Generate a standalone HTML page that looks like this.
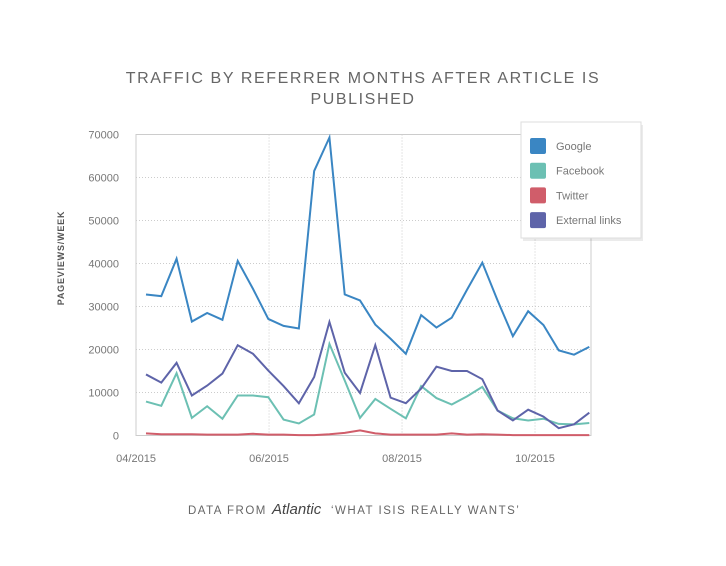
<!DOCTYPE html>
<html><head><meta charset="utf-8"><style>
body{margin:0;background:#fff;font-family:"Liberation Sans",sans-serif}
svg text{font-family:"Liberation Sans",sans-serif}
</style></head><body>
<svg width="726" height="561" viewBox="0 0 726 561">
<g id="chart-root"></g>
</svg>
<script>
const weeks=["04/2015","06/2015","08/2015","10/2015"];
const google=[32800,32400,41100,26500,28500,26900,40600,34100,27100,25500,24900,61500,69300,32800,31400,25800,22500,19000,28000,25100,27400,33900,40200,31400,23100,28900,25700,19800,18800,20600];
const facebook=[7900,6900,14500,4100,6800,3900,9300,9300,8900,3700,2800,4900,21300,12800,4100,8500,6200,4000,11500,8700,7200,9100,11300,5800,4000,3500,3900,2700,2600,2900];
const twitter=[500,300,300,300,200,200,200,400,200,200,100,100,300,600,1200,500,200,200,200,200,500,200,300,200,100,100,100,100,100,100];
const external=[14200,12300,16900,9300,11600,14400,21000,19000,15100,11500,7500,13600,26400,14600,9900,21000,8800,7500,10900,16000,15000,15000,13100,5800,3500,6000,4400,1700,2600,5300];
const yTicks=[0,10000,20000,30000,40000,50000,60000,70000];
const xTickLabels=["04/2015","06/2015","08/2015","10/2015"];
const xTickIdx=[-0.65,8.05,16.75,25.45];
const seriesNames=["Google","Facebook","Twitter","External links"];
const colors=["#3a86c3","#6cc0b3","#d05d6a","#5e64a9"];

const NS="http://www.w3.org/2000/svg";
const root=document.getElementById('chart-root');
const L=136,R=591,T=134.5,B=435.5;
const y=v=>B-(v/70000)*(B-T);
const x=i=>146+i*(589.3-146)/29;
function mk(tag,attrs,parent){const e=document.createElementNS(NS,tag);for(const k in attrs)e.setAttribute(k,attrs[k]);(parent||root).appendChild(e);return e;}

let t=mk('text',{x:363,y:83,'text-anchor':'middle','font-size':16,fill:'#666','letter-spacing':'1.6'});


t.textContent="TRAFFIC BY REFERRER MONTHS AFTER ARTICLE IS";
t=mk('text',{x:363,y:104,'text-anchor':'middle','font-size':16,fill:'#666','letter-spacing':'1.6'});


t.textContent="PUBLISHED";

t=mk('text',{x:0,y:0,'text-anchor':'middle','font-size':9,fill:'#555','font-weight':'bold','letter-spacing':'0.8',transform:'translate(64,258) rotate(-90)'});


t.textContent="PAGEVIEWS/WEEK";

yTicks.forEach(v=>{
 if(v>0&&v<70000){const g=mk('line',{x1:L,x2:R,y1:y(v),y2:y(v),stroke:'#ccc','stroke-dasharray':'1,2'});
 
 }
 const tx=mk('text',{x:119,y:y(v)+4,'text-anchor':'end','font-size':11,fill:'#777'});
 
 
 tx.textContent=v;
});
xTickLabels.forEach((lab,k)=>{
 const xx=x(xTickIdx[k]);
 if(k>0){const g=mk('line',{x1:xx,x2:xx,y1:T,y2:B,stroke:'#ccc','stroke-dasharray':'1,2'});
 
 }
 const tx=mk('text',{x:xx,y:462,'text-anchor':'middle','font-size':11,fill:'#777'});
 
 
 tx.textContent=lab;
});
const frame=mk('rect',{x:L,y:T,width:R-L,height:B-T,fill:'none',stroke:'#ccc','stroke-width':1});



[google,facebook,twitter,external].forEach((arr,s)=>{
 const p=mk('polyline',{points:arr.map((v,i)=>x(i)+','+y(v)).join(' '),fill:'none',stroke:colors[s],'stroke-width':2,'stroke-linejoin':'miter'});
 
 
});

const lg=mk('g',{});


mk('rect',{x:522,y:123,width:120,height:116,fill:'#000',opacity:0.08,transform:'translate(1,2)'},lg);
mk('rect',{x:521,y:122,width:120,height:116,fill:'#fff',stroke:'#ddd'},lg);
seriesNames.forEach((n,s)=>{
 const e=mk('g',{},lg);
 
 
 mk('rect',{x:530,y:138+s*24.7,width:16,height:16,rx:2,fill:colors[s]},e);
 const tx=mk('text',{x:556,y:150+s*24.7,'font-size':11,fill:'#777'},e);
 tx.textContent=n;
});

const ft=mk('text',{x:188,y:514,'font-size':11.5,fill:'#666','letter-spacing':'1.5'});


ft.textContent="DATA FROM";
const at=mk('text',{x:272,y:514,'font-size':15,fill:'#444','font-style':'italic','font-family':'Liberation Serif'});


at.textContent="Atlantic";
const ft2=mk('text',{x:331,y:514,'font-size':11.5,fill:'#666','letter-spacing':'1.5'});


ft2.textContent="‘WHAT ISIS REALLY WANTS’";
</script>
</body></html>
